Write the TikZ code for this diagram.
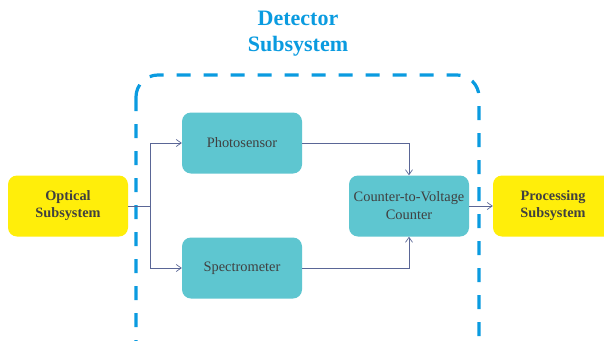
\documentclass[tikz,border=0pt]{standalone}
\usepackage{fontspec}
\setmainfont{Liberation Serif}
\usetikzlibrary{arrows.meta}
\definecolor{teal1}{HTML}{5EC6D0}
\definecolor{yel}{HTML}{FFEE0A}
\definecolor{dblue}{HTML}{0A9BE0}
\definecolor{lcol}{HTML}{5A6696}
\definecolor{tcol}{HTML}{404040}
\tikzset{
  blk/.style={fill=teal1, rounded corners=9pt, minimum width=120pt, minimum height=61pt, inner sep=0pt, align=center, text=tcol, font=\fontsize{14.4}{18}\selectfont},
  ybox/.style={fill=yel, rounded corners=9pt, minimum width=120pt, minimum height=61pt, inner sep=0pt, align=center, text=tcol, font=\fontsize{14.3}{17}\selectfont\bfseries},
  conn/.style={draw=lcol, line width=0.7pt, -{Straight Barb[length=5pt,width=7pt]}},
  plain/.style={draw=lcol, line width=0.7pt}
}
\begin{document}
\begin{tikzpicture}[x=1pt,y=-1pt]
\useasboundingbox (0,0) rectangle (604,340);
\clip (0,0) rectangle (604,340);
\fill[white] (0,0) rectangle (604,340);
\draw[dblue, line width=3.2pt, dash pattern=on 14pt off 13pt, rounded corners=22pt] (136,75) rectangle (479,365);
\node[font=\fontsize{22}{26}\selectfont\bfseries, text=dblue, align=center] (title) at (298,34) {Detector\\Subsystem};
\node[ybox] (opt) at (68,206) {Optical\\Subsystem};
\node[ybox] (proc) at (553,206) {Processing\\Subsystem};
\node[blk] (ph) at (242,143) {Photosensor};
\node[blk] (sp) at (242,268) {Spectrometer};
\node[blk] (cv) at (409,206) {Counter-to-Voltage\\Counter};
\coordinate (j) at (150,206);
\draw[plain] (opt.east) -- (j);
\draw[conn] (j) |- (ph.west);
\draw[conn] (j) |- (sp.west);
\draw[conn] (ph.east) -| (cv.north);
\draw[conn] (sp.east) -| (cv.south);
\draw[conn] (cv.east) -- (proc.west);
\end{tikzpicture}
\end{document}
